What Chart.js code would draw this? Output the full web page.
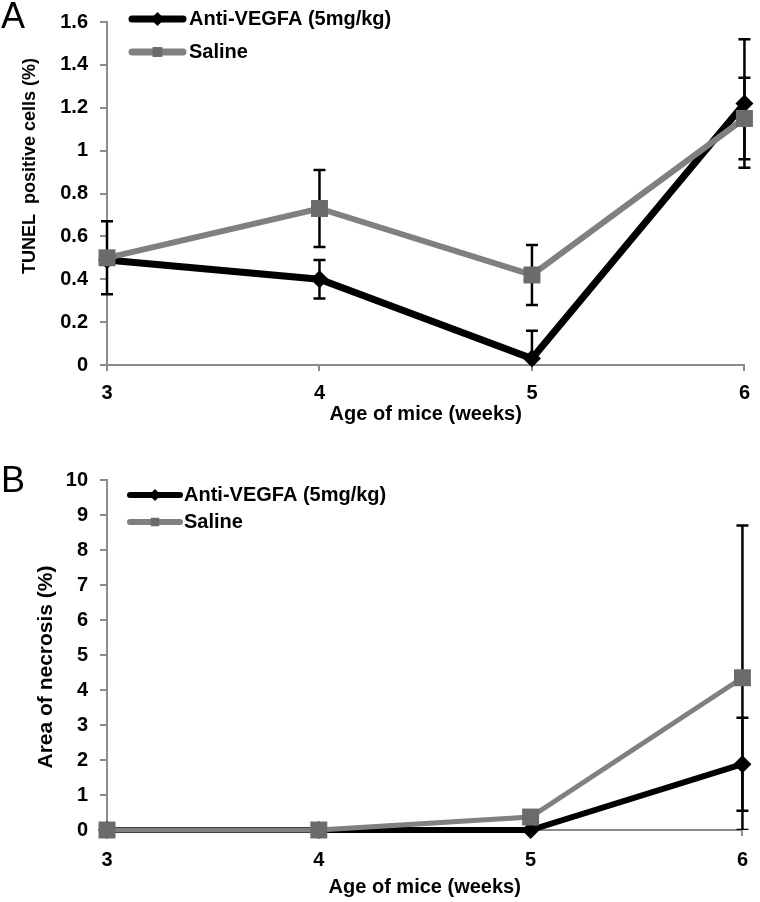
<!DOCTYPE html>
<html>
<head>
<meta charset="utf-8">
<script src="https://cdn.jsdelivr.net/npm/chart.js@4.4.0/dist/chart.umd.min.js"></script>
<style>
html, body { margin: 0; padding: 0; background: #fff; }
#wrap { position: relative; width: 760px; height: 902px; }
canvas { position: absolute; left: 0; }
#chartTunel { top: 0; }
#chartNecrosis { top: 451px; }
.panel { position: absolute; left: 1px; font: 36px "Liberation Sans", Arial, sans-serif; line-height: 36px; color: #000; }
</style>
</head>
<body>
<div id="wrap">
  <canvas id="chartTunel" width="760" height="451"></canvas>
  <canvas id="chartNecrosis" width="760" height="451"></canvas>
  <div class="panel" style="top:-2px">A</div>
  <div class="panel" style="top:462px">B</div>
</div>
<script>
var weeks = ['3', '4', '5', '6'];

// panel A - TUNEL positive cells (%)
var tunelAnti = [0.49, 0.40, 0.03, 1.22];
var tunelAntiErr = [0, 0.09, 0.13, 0.30];
var tunelSaline = [0.50, 0.73, 0.42, 1.15];
var tunelSalineErr = [0.17, 0.18, 0.14, 0.19];
var tunelTicks = [0, 0.2, 0.4, 0.6, 0.8, 1, 1.2, 1.4, 1.6];

// panel B - area of necrosis (%)
var necAnti = [0, 0, 0, 1.88];
var necAntiErr = [0, 0, 0, 1.33];
var necSaline = [0, 0, 0.37, 4.35];
var necSalineErr = [0, 0, 0, 4.35];
var necTicks = [0, 1, 2, 3, 4, 5, 6, 7, 8, 9, 10];

var FONT = '"Liberation Sans", Arial, sans-serif';
var AXIS = '#8c8c8c';
var BLACK = '#000000';
var GREY = '#808080';
var GREY_MARK = '#6b6b6b';

// error bars, drawn under the lines/markers
var errorBars = {
  id: 'errorBars',
  beforeDatasetsDraw: function(chart) {
    var ctx = chart.ctx, area = chart.chartArea, y = chart.scales.y;
    ctx.save();
    ctx.beginPath();
    ctx.rect(area.left - 10, area.top - 5, area.right - area.left + 20, area.bottom - area.top + 5);
    ctx.clip();
    ctx.strokeStyle = '#000';
    ctx.lineWidth = 2.5;
    chart.data.datasets.forEach(function(ds, i) {
      var pts = chart.getDatasetMeta(i).data;
      pts.forEach(function(p, j) {
        var e = ds.errorBars[j];
        if (!e) return;
        var top = y.getPixelForValue(ds.data[j] + e);
        var bot = y.getPixelForValue(ds.data[j] - e);
        ctx.beginPath();
        ctx.moveTo(p.x, top); ctx.lineTo(p.x, bot);
        ctx.moveTo(p.x - 6, top); ctx.lineTo(p.x + 6, top);
        ctx.moveTo(p.x - 6, bot); ctx.lineTo(p.x + 6, bot);
        ctx.stroke();
      });
    });
    ctx.restore();
  }
};

// excel style legend inside the plot
var boxLegend = {
  id: 'boxLegend',
  afterDraw: function(chart, args, opts) {
    var ctx = chart.ctx;
    chart.data.datasets.forEach(function(ds, i) {
      var y = opts.rows[i];
      ctx.save();
      ctx.strokeStyle = ds.borderColor;
      ctx.lineWidth = opts.lineWidth;
      ctx.lineCap = 'round';
      ctx.beginPath();
      ctx.moveTo(opts.x, y);
      ctx.lineTo(opts.x + opts.len, y);
      ctx.stroke();
      ctx.fillStyle = ds.pointBackgroundColor;
      Chart.helpers.drawPoint(ctx, {pointStyle: ds.pointStyle, radius: opts.radius, borderWidth: 0, rotation: 0}, opts.x + opts.len / 2, y);
      ctx.fillStyle = '#000';
      ctx.font = 'bold ' + opts.size + 'px ' + FONT;
      ctx.textBaseline = 'middle';
      ctx.textAlign = 'left';
      ctx.fillText(ds.label, opts.textX, y);
      ctx.restore();
    });
  }
};

// rotated y title placed like the original
var yTitle = {
  id: 'yTitle',
  afterDraw: function(chart, args, opts) {
    var ctx = chart.ctx;
    ctx.save();
    ctx.translate(opts.x, opts.y);
    ctx.rotate(-Math.PI / 2);
    ctx.fillStyle = '#000';
    ctx.font = 'bold ' + opts.size + 'px ' + FONT;
    ctx.textAlign = 'center';
    ctx.textBaseline = 'middle';
    ctx.fillText(opts.text, 0, 0);
    ctx.restore();
  }
};

function xAxis(height, tickPad, titlePad) {
  return {
    type: 'category',
    offset: false,
    afterFit: function(s) { s.height = height; },
    grid: {drawOnChartArea: false, drawTicks: true, tickLength: 6, color: AXIS, lineWidth: 2, offset: false},
    border: {color: AXIS, width: 2},
    ticks: {color: '#000', font: {family: FONT, size: 20, weight: 'bold'}, padding: tickPad, maxRotation: 0},
    title: {display: true, text: 'Age of mice (weeks)', color: '#000',
            font: {family: FONT, size: 20, weight: 'bold'}, padding: {top: 0, bottom: titlePad}}
  };
}

function yAxis(max, ticks) {
  return {
    min: 0,
    max: max,
    afterBuildTicks: function(s) { s.ticks = ticks.map(function(v) { return {value: v}; }); },
    afterFit: function(s) { s.width = 107; },
    grid: {drawOnChartArea: false, drawTicks: true, tickLength: 7, color: AXIS, lineWidth: 2},
    border: {color: AXIS, width: 2},
    ticks: {color: '#000', font: {family: FONT, size: 20, weight: 'bold', lineHeight: 1}, padding: 12,
            callback: function(v) { return String(v); }}
  };
}

function series(label, data, err, color, markColor, style, radius, width, order) {
  return {
    label: label,
    data: data,
    errorBars: err,
    borderColor: color,
    backgroundColor: markColor,
    borderWidth: width,
    pointStyle: style,
    pointRadius: radius,
    pointBackgroundColor: markColor,
    pointBorderWidth: 0,
    tension: 0,
    fill: false,
    clip: false,
    order: order
  };
}

//grafico TUNEL
var ctx = document.getElementById('chartTunel');
var chartTunel = new Chart(ctx, {
  type: 'line',
  data: {
    labels: weeks,
    datasets: [
      series('Anti-VEGFA (5mg/kg)', tunelAnti, tunelAntiErr, BLACK, BLACK, 'rectRot', 9, 7, 1),
      series('Saline', tunelSaline, tunelSalineErr, GREY, GREY_MARK, 'rect', 12, 6, 0)
    ]
  },
  options: {
    responsive: false,
    animation: false,
    layout: {padding: {top: 10, right: 12, left: 0, bottom: 0}},
    scales: {x: xAxis(86, 10, 25), y: yAxis(1.6, tunelTicks)},
    plugins: {
      legend: {display: false},
      tooltip: {enabled: false},
      boxLegend: {x: 132, len: 51, textX: 189, rows: [19, 52], lineWidth: 7, radius: 7, size: 20},
      yTitle: {text: 'TUNEL  positive cells (%)', x: 30, y: 166, size: 18}
    }
  },
  plugins: [errorBars, boxLegend, yTitle]
});

//grafico necrosis
var ctx = document.getElementById('chartNecrosis');
var chartNecrosis = new Chart(ctx, {
  type: 'line',
  data: {
    labels: weeks,
    datasets: [
      series('Anti-VEGFA (5mg/kg)', necAnti, necAntiErr, BLACK, BLACK, 'rectRot', 9, 6, 1),
      series('Saline', necSaline, necSalineErr, GREY, GREY_MARK, 'rect', 12, 5, 0)
    ]
  },
  options: {
    responsive: false,
    animation: false,
    layout: {padding: {top: 29, right: 13, left: 0, bottom: 0}},
    scales: {x: xAxis(72, 12, 3), y: yAxis(10, necTicks)},
    plugins: {
      legend: {display: false},
      tooltip: {enabled: false},
      boxLegend: {x: 130, len: 50, textX: 184, rows: [44, 71], lineWidth: 6, radius: 6, size: 20},
      yTitle: {text: 'Area of necrosis (%)', x: 46, y: 216, size: 21}
    }
  },
  plugins: [errorBars, boxLegend, yTitle]
});
</script>
</body>
</html>
